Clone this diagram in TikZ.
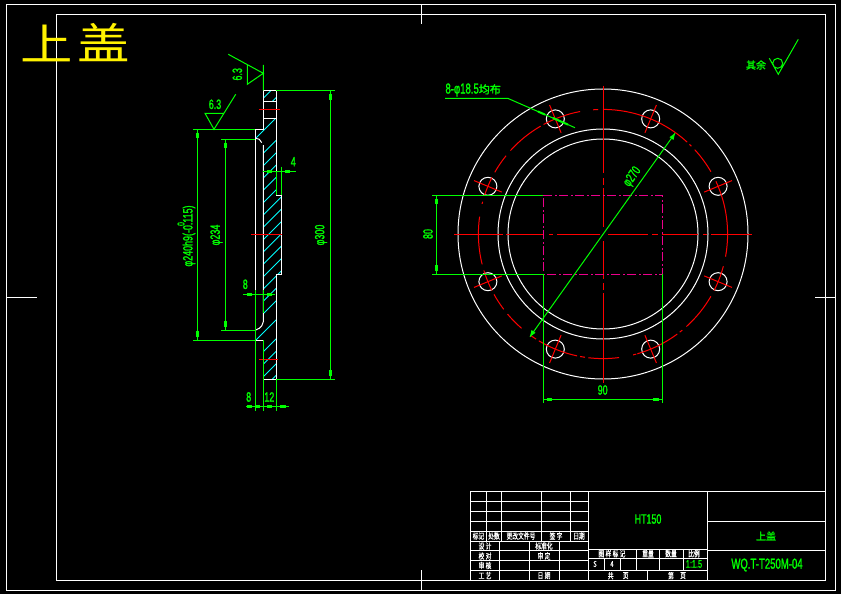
\documentclass[tikz,border=0pt]{standalone}
\usepackage{fontspec}
\setmainfont{Liberation Sans}
\newfontfamily\cad[FakeStretch=0.66,FakeBold=1.4]{Liberation Sans}
\newfontfamily\cjk[FakeStretch=0.72,FakeBold=0.8]{Noto Sans CJK SC}
\newfontfamily\cjkb[FakeBold=1.5]{Noto Sans CJK SC}
\newfontfamily\cjkt[FakeStretch=1.22]{Noto Sans CJK SC}
\begin{document}
\begin{tikzpicture}[x=1pt,y=-1pt,line width=1pt,
  white line/.style={draw=white},
  dim/.style={draw=dimgreen},
  centre/.style={draw=red},
  hidden/.style={draw=magenta!100,dash pattern=on 9pt off 2.5pt on 2pt off 2.5pt},
  hatchline/.style={draw=hatchcyan,line width=.9pt},
  dimtext/.style={text=dimgreen,inner sep=0pt,font=\cad\fontsize{13.5}{13.5}\selectfont},
  cjkgreen/.style={text=dimgreen,inner sep=0pt,font=\cjkb\fontsize{10}{10}\selectfont},
  tabletext/.style={text=white,inner sep=0pt,font=\cjk\fontsize{8}{8}\selectfont},
  title/.style={text=yellow,inner sep=0pt,font=\cjkt\fontsize{43}{43}\selectfont}]
\definecolor{dimgreen}{RGB}{0,255,0}
\definecolor{hatchcyan}{RGB}{0,255,255}
\useasboundingbox (0,0) rectangle (841,594);
\fill[black] (0,0) rectangle (841,594);
\newcommand{\blob}[2]{\fill[dimgreen] (#1-1.5,#2-2.8) rectangle (#1+1.5,#2+2.8);}
\newcommand{\blobh}[2]{\fill[dimgreen] (#1-2.8,#2-1.5) rectangle (#1+2.8,#2+1.5);}
% frames
\draw[white line] (6.5,4.7) rectangle (835,590);
\draw[white line] (56.5,14.5) rectangle (825.3,580.7);
\draw[white line] (421,4.7) -- (421,24) (421,570) -- (421,590) (6.5,297) -- (37,297) (815,297) -- (835,297);
% title
\node[title] (ttl1) at (47,43) {上};
\node[title] (ttl2) at (104,43) {盖};
% ---- main view
\draw[white line] (603,234) circle[radius=145] (603,234) circle[radius=105] (603,234) circle[radius=95];
\foreach \a in {22.5,67.5,...,337.5} {
  \draw[white line] (603,234)+(\a:124.6) circle[radius=9];
  \draw[centre] (603,234)+(\a:109.6) -- +(\a:139.6);
}
\foreach \a/\b in {270/312.5,314/315.2,317.4/330,335/370.5,375/387,390/408,410.5/412,413.4/434,434.5/436,442.6/456.7,458.3/460.6,462/481,482.5/485.6,490.8/500,502.8/511,513/523,525.9/548,554/555,558/567,569.7/578.9,582/600,601.5/619.4,625.5/627.8} {
  \draw[centre] (603,234)+(\a:124.6) arc[start angle=\a,end angle=\b,radius=124.6];
}
\draw[centre] (454,234) -- (503,234) (506,234) -- (543,234) (549,234) -- (553,234) (557,234) -- (600,234)
  (608,234) -- (648,234) (652,234) -- (658,234) (662,234) -- (698,234) (703,234) -- (707,234) (711,234) -- (752,234);
\draw[centre] (603,86) -- (603,173) (603,178) -- (603,185) (603,188) -- (603,227) (603,241) -- (603,279) (603,283) -- (603,290) (603,293) -- (603,383);
\draw[hidden] (543.3,195.3) -- (662.3,195.3) -- (662.3,274.3) -- (543.3,274.3) -- cycle;
% main dims
\draw[dim] (432,195.3) -- (543.3,195.3) (432,274.3) -- (543.3,274.3) (436.3,195.3) -- (436.3,274.3);
\blob{436.3}{201.5}\blob{436.3}{268}
\node[dimtext,rotate=90] (d80) at (428,234) {80};
\draw[dim] (543.3,274.3) -- (543.3,403.3) (662.3,274.3) -- (662.3,403.3) (543.3,399.3) -- (662.3,399.3);
\blobh{549.5}{399.3}\blobh{656}{399.3}
\node[dimtext] (d90) at (602.7,390) {90};
\draw[dim] (675,133.3) -- (530,336.7);
\fill[dimgreen] (675,133.3) -- (673.5,140) -- (669.5,137.2) -- cycle;
\fill[dimgreen] (530,336.7) -- (531.5,330) -- (535.5,332.8) -- cycle;
\node[dimtext,rotate=54.5] (d270) at (632.5,177) {φ270};
\draw[dim] (445,98.3) -- (507.7,98.3) -- (575,127.7);
\draw[dimgreen,line width=2pt] (538,111.5) -- (545,114.6) (553,118) -- (568,124.6);
\node[cjkgreen,anchor=west,font=\cad\fontsize{14.5}{14.5}\selectfont] (hole) at (445,90) {8-φ18.5{\cjkb\fontsize{11}{11}\selectfont 均布}};
% ---- section view
\begin{scope}
\clip (263.3,90.3) -- (276.3,90.3) -- (276.3,101.3) -- (263.3,101.3) -- cycle;
\foreach \s in {361.6,373.8} \draw[hatchline] (250,\s-250) -- (290,\s-290);
\end{scope}
\begin{scope}
\clip (263.3,118.3) -- (276.3,118.3) -- (276.3,195.3) -- (281.3,195.3) -- (281.3,274.3) -- (276.3,274.3) -- (276.3,379.3) -- (263.3,379.3) -- (263.3,340.3) -- (255.3,340.3) -- (255.7,330) -- (263.3,323) -- (263.3,145) -- (255.7,138.3) -- (255.3,129.3) -- (263.3,129.3) -- cycle;
\foreach \s in {394,416.6,428.9,441.2,453.5,465.9,478.2,490.5,502.9,515.2,527.6,539.9,552.2,564.6,576.9,596,615,627.5,640,651.5} \draw[hatchline] (250,\s-250) -- (290,\s-290);
\end{scope}
\draw[white line] (263.3,90.3) -- (276.3,90.3) -- (276.3,195.3) -- (281.3,195.3) -- (281.3,274.3) -- (276.3,274.3) -- (276.3,379.3) -- (263.3,379.3) -- (263.3,340.3) -- (255.3,340.3) -- (255.3,129.3) -- (263.3,129.3) -- cycle;
\draw[white line] (263.3,101.3) -- (276.3,101.3) (263.3,118.3) -- (276.3,118.3);
\draw[white line] (255.7,138.3) -- (259.3,139.3) -- (261.7,142.7) (263.3,145) -- (263.3,321.7) -- (261.7,326) -- (259.3,328.3) -- (255.7,330);
\draw[centre] (259,109.3) -- (280,109.3) (251,234.3) -- (281.6,234.3) (259,359.3) -- (278,359.3);
% section dims
\draw[dim] (193,129.3) -- (255.3,129.3) (193,340.3) -- (255.3,340.3) (197.3,129.3) -- (197.3,340.3);
\blob{197.3}{135.5}\blob{197.3}{334}
\draw[dim] (221,139.3) -- (255.3,139.3) (221,330.3) -- (255.3,330.3) (225.3,139.3) -- (225.3,330.3);
\blob{225.3}{145.5}\blob{225.3}{324}
\draw[dim] (276.3,90.3) -- (335,90.3) (276.3,379.3) -- (335,379.3) (330.3,90.3) -- (330.3,379.3);
\blob{330.3}{96.7}\blob{330.3}{373}
\draw[dim] (263.3,171.3) -- (296,171.3) (276.3,171.3) -- (276.3,195.3) (281.3,166.7) -- (281.3,195.3);
\blobh{269.3}{171.3}\blobh{287.3}{171.3}
\node[dimtext] (d4) at (293.3,161.7) {4};
\draw[dim] (243.3,294.3) -- (275,294.3);
\blobh{249.3}{294.3}\blobh{269.3}{294.3}
\node[dimtext] (d8a) at (245.3,284.3) {8};
\draw[dim] (255.3,290) -- (255.3,410.6) (263.3,290) -- (263.3,313) (263.3,340.3) -- (263.3,410.6) (276.3,379.3) -- (276.3,410.6) (246,406.3) -- (289,406.3);
\blobh{249.3}{406.3}\blobh{257.3}{406.3}\blobh{269.3}{406.3}\blobh{282.7}{406.3}
\node[dimtext] (d8b) at (248.7,397) {8};
\node[dimtext] (d12) at (269.3,397) {12};
\node[dimtext,rotate=90] (d240) at (189,236) {φ240h9(-0.115)};
\node[dimtext,rotate=90,font=\cad\fontsize{10}{10}\selectfont] (d240b) at (181,224) {0};
\node[dimtext,rotate=90] (d234) at (216.5,235) {φ234};
\node[dimtext,rotate=90] (d300) at (321,235) {φ300};
% roughness
\draw[dim] (228.3,54.3) -- (263.3,73.3) -- (247.3,84.3) -- (247.3,65) (263.3,65) -- (263.3,90.3);
\node[dimtext,rotate=90] (r1) at (237.3,74.3) {6.3};
\draw[dim] (235.7,94.3) -- (214,129.3) -- (205,113.3) -- (223.3,113.3);
\node[dimtext] (r2) at (215,104.3) {6.3};
\draw[dim] (798.3,39.3) -- (778.3,74.3) -- (769.3,58.3) (777.7,63.3) circle[radius=5];
\node[cjkgreen] (r3) at (756,65) {其余};
% ---- title block
\draw[white line] (470.3,491.3) rectangle (825.3,580.7);
\foreach \y in {501.3,511.3,521.3,531.3,541.3,550.7,560.3,570.7} \draw[white line] (470.3,\y) -- (588.3,\y);
\foreach \x in {486.7,501.7,541.3,570.3} \draw[white line] (\x,491.3) -- (\x,541.3);
\foreach \x in {499.3,529.3,559.3} \draw[white line] (\x,541.3) -- (\x,580.7);
\draw[white line] (588.3,491.3) -- (588.3,580.7) (707.3,491.3) -- (707.3,580.7);
\draw[white line] (588.3,549) -- (707.3,549) (588.3,558.3) -- (707.3,558.3) (588.3,570.7) -- (707.3,570.7);
\draw[white line] (636.3,549) -- (636.3,570.7) (604.3,558.3) -- (604.3,570.7) (620.3,558.3) -- (620.3,570.7) (659.3,549) -- (659.3,570.7) (683.3,549) -- (683.3,570.7) (647.7,570.7) -- (647.7,580.7);
\draw[white line] (707.3,521.3) -- (825.3,521.3) (707.3,550.3) -- (825.3,550.3);
\node[dimtext] (mat) at (648,519) {HT150};
\node[cjkgreen,font=\cjkb\fontsize{10}{10}\selectfont] (nm) at (766,536) {上盖};
\node[dimtext,font=\cad\fontsize{14.5}{14.5}\selectfont] (code) at (767,565) {WQ.T-T250M-04};
\node[dimtext,font=\cad\fontsize{11}{11}\selectfont] (sc) at (694,564) {1:1.5};
\node[tabletext] (t1) at (478.5,536) {标记};
\node[tabletext] (t2) at (494,536) {处数};
\node[tabletext] (t3) at (521,536) {更改文件号};
\node[tabletext] (t4) at (556,536) {签 字};
\node[tabletext] (t5) at (579,536) {日期};
\node[tabletext] (t6) at (485,546) {设 计};
\node[tabletext] (t7) at (485,556) {校 对};
\node[tabletext] (t8) at (485,565.5) {审 核};
\node[tabletext] (t9) at (485,575.5) {工 艺};
\node[tabletext] (t10) at (544,546) {标准化};
\node[tabletext] (t11) at (544,556) {审 定};
\node[tabletext] (t12) at (544,575.5) {日 期};
\node[tabletext] (t13) at (612,553.7) {图\,样\,标\,记};
\node[tabletext] (t14) at (648,553.7) {重量};
\node[tabletext] (t15) at (671,553.7) {数量};
\node[tabletext] (t16) at (694,553.7) {比例};
\node[tabletext] (t17) at (595,564) {S};
\node[tabletext] (t18) at (612,564) {4};
\node[tabletext] (t19) at (610.7,575.7) {共};
\node[tabletext] (t20) at (625.7,575.7) {页};
\node[tabletext] (t21) at (671,575.7) {第};
\node[tabletext] (t22) at (683,575.7) {页};
\end{tikzpicture}
\end{document}
